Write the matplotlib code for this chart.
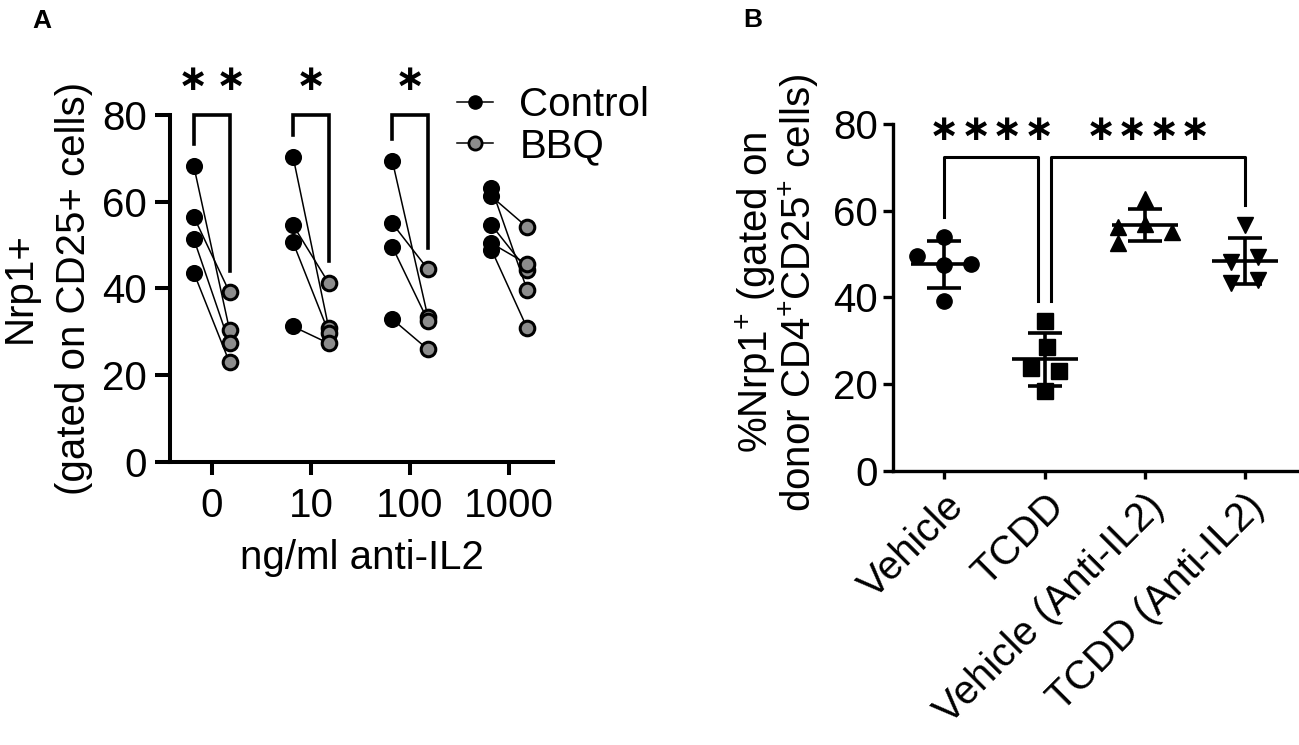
import matplotlib
matplotlib.use("Agg")
import matplotlib.pyplot as plt
from matplotlib.lines import Line2D
import numpy as np

plt.rcParams['font.family'] = ['Liberation Sans', 'DejaVu Sans']
plt.rcParams['mathtext.fontset'] = 'custom'
plt.rcParams['mathtext.rm'] = 'Liberation Sans'
plt.rcParams['mathtext.it'] = 'Liberation Sans:italic'
plt.rcParams['mathtext.bf'] = 'Liberation Sans:bold'

# ---------------- data: panel A ----------------
doses = ["0", "10", "100", "1000"]
ctrl_0 = [68.2, 56.5, 51.4, 43.6]
bbq_0 = [30.4, 39.1, 27.3, 22.9]
ctrl_10 = [70.4, 54.6, 50.6, 31.2]
bbq_10 = [30.8, 41.2, 29.8, 27.3]
ctrl_100 = [69.5, 55.0, 49.6, 32.9]
bbq_100 = [33.3, 44.4, 32.5, 25.9]
ctrl_1000 = [63.1, 61.2, 54.6, 50.4, 48.9]
bbq_1000 = [39.6, 54.1, 44.2, 45.6, 30.8]
sig_A = ["**", "*", "*", ""]

# ---------------- data: panel B ----------------
groups_B = ["Vehicle", "TCDD", "Vehicle (Anti-IL2)", "TCDD (Anti-IL2)"]
vehicle = [49.6, 54.0, 47.5, 47.7, 39.2]
tcdd = [34.6, 28.5, 23.8, 23.1, 18.5]
vehicle_anti = [62.7, 56.2, 56.9, 55.0, 52.5]
tcdd_anti = [56.7, 48.2, 49.4, 43.4, 44.0]
sig_B = ["****", "****"]

jit_B = [[-0.27, 0, 0, 0.27, 0],
         [0, 0.02, -0.14, 0.14, 0],
         [0, -0.27, 0, 0.27, -0.27],
         [0, -0.135, 0.135, -0.135, 0.135]]
markers_B = ['o', 's', '^', 'v']

W, H = 1299, 745
fig = plt.figure(figsize=(W / 100, H / 100), dpi=100)

def fx(px):
    return px / W

def fy(py):
    return 1 - py / H

FS = 29
STAR = '\u2217'
STAR_FS = 26

def draw_stars(ax, xc, y, n, pitch_px, fs):
    for i in range(n):
        dx = (i - (n - 1) / 2) * pitch_px * 0.72
        ax.annotate(STAR, xy=(xc, y), xycoords='data', xytext=(dx, 0),
                    textcoords='offset points', ha='center', va='baseline',
                    fontsize=fs, fontweight='bold', family=['DejaVu Sans'],
                    annotation_clip=False)

# ================= Panel A =================
axA = fig.add_axes([fx(170), fy(461.7), fx(553) - fx(170), fy(115) - fy(461.7)])
ctrl_all = [ctrl_0, ctrl_10, ctrl_100, ctrl_1000]
bbq_all = [bbq_0, bbq_10, bbq_100, bbq_1000]
off = 0.18
for i, (c, b) in enumerate(zip(ctrl_all, bbq_all)):
    for cv, bv in zip(c, b):
        axA.plot([i - off, i + off], [cv, bv], color='black', lw=1.1, zorder=2)
    axA.plot([i - off] * len(c), c, 'o', ms=10.8, mfc='black', mec='black', mew=1.5,
             zorder=3, clip_on=False)
    axA.plot([i + off] * len(b), b, 'o', ms=10.5, mfc='#8c8c8c', mec='black', mew=2.2,
             zorder=3, clip_on=False)
    if sig_A[i]:
        top = 80
        axA.plot([i - off, i - off, i + off, i + off],
                 [max(c) + 5, top, top, max(b) + 5], color='black', lw=2.6,
                 solid_joinstyle='miter', clip_on=False)
        draw_stars(axA, i, 85.7, len(sig_A[i]), 38, STAR_FS)

axA.set_xlim(-0.42, 3.44)
axA.set_ylim(0, 80)
axA.set_xticks(range(4))
axA.set_xticklabels(doses, fontsize=FS)
axA.set_yticks([0, 20, 40, 60, 80])
axA.set_yticklabels(['0', '20', '40', '60', '80'], fontsize=FS)
for s in ['top', 'right']:
    axA.spines[s].set_visible(False)
for s in ['left', 'bottom']:
    axA.spines[s].set_linewidth(2.9)
axA.tick_params(axis='y', length=10.8, width=2.9, pad=6)
axA.tick_params(axis='x', length=9.4, width=2.9, pad=9)
axA.set_xlabel("ng/ml anti-IL2", fontsize=FS, labelpad=10)

leg_handles = [
    Line2D([0], [0], color='black', lw=1.1, marker='o', ms=9.5, mfc='black', mec='black'),
    Line2D([0], [0], color='black', lw=1.1, marker='o', ms=9.5, mfc='#8c8c8c', mec='black', mew=2),
]
axA.legend(leg_handles, ["Control", "BBQ"], fontsize=FS, frameon=False,
           loc='upper left', bbox_to_anchor=(fx(457), fy(86)), bbox_transform=fig.transFigure,
           borderpad=0, borderaxespad=0, handlelength=0.9, handletextpad=0.65,
           labelspacing=0.08)

fig.text(fx(31), fy(288), "Nrp1+", rotation=90, rotation_mode='anchor',
         ha='center', va='baseline', fontsize=FS)
fig.text(fx(85), fy(288), "(gated on CD25+ cells)", rotation=90, rotation_mode='anchor',
         ha='center', va='baseline', fontsize=FS)

# ================= Panel B =================
axB = fig.add_axes([fx(893.3), fy(470.7), fx(1297) - fx(893.3), fy(124) - fy(470.7)])
data_B = [vehicle, tcdd, vehicle_anti, tcdd_anti]
for i, vals in enumerate(data_B):
    v = np.array(vals)
    m, sd = v.mean(), v.std(ddof=1)
    axB.plot(i + np.array(jit_B[i]), v, markers_B[i], ms=11, color='black', zorder=3,
             clip_on=False)
    axB.plot([i - 0.33, i + 0.33], [m, m], color='black', lw=2.6, zorder=4,
             solid_capstyle='butt')
    axB.plot([i, i], [m - sd, m + sd], color='black', lw=2.6, zorder=4,
             solid_capstyle='butt')
    for yy in (m - sd, m + sd):
        axB.plot([i - 0.17, i + 0.17], [yy, yy], color='black', lw=2.6, zorder=4,
                 solid_capstyle='butt')

gap = 4.6
btop = 72.3
axB.plot([0, 0, 1 - 0.065, 1 - 0.065], [max(vehicle) + gap, btop, btop, max(tcdd) + gap],
         color='black', lw=2.2, clip_on=False)
axB.plot([1 + 0.065, 1 + 0.065, 3, 3], [max(tcdd) + gap, btop, btop, max(tcdd_anti) + gap],
         color='black', lw=2.2, clip_on=False)
draw_stars(axB, (0 + 1 - 0.065) / 2, 76.4, len(sig_B[0]), 31.5, STAR_FS)
draw_stars(axB, (1 + 0.065 + 3) / 2, 76.4, len(sig_B[1]), 31.5, STAR_FS)

axB.set_xlim(-0.51, 3.52)
axB.set_ylim(0, 80)
axB.set_yticks([0, 20, 40, 60, 80])
axB.set_yticklabels(['0', '20', '40', '60', '80'], fontsize=FS)
axB.set_xticks(range(4))
axB.set_xticklabels(groups_B, fontsize=FS, rotation=45, ha='right',
                    rotation_mode='anchor')
for s in ['top', 'right']:
    axB.spines[s].set_visible(False)
for s in ['left', 'bottom']:
    axB.spines[s].set_linewidth(2.4)
axB.tick_params(axis='y', length=7.2, width=2.4, pad=4)
axB.tick_params(axis='x', length=5.8, width=2.4, pad=6)

fig.text(fx(768), fy(292), "%Nrp1$^{+}$ (gated on", rotation=90, rotation_mode='anchor',
         ha='center', va='baseline', fontsize=FS)
fig.text(fx(811), fy(293), "donor CD4$^{+}$CD25$^{+}$ cells)", rotation=90,
         rotation_mode='anchor', ha='center', va='baseline', fontsize=FS)

fig.text(fx(32), fy(28), "A", fontsize=19, fontweight='bold', ha='left', va='baseline')
fig.text(fx(743), fy(27), "B", fontsize=19, fontweight='bold', ha='left', va='baseline')

fig.savefig("out.png", dpi=100)
